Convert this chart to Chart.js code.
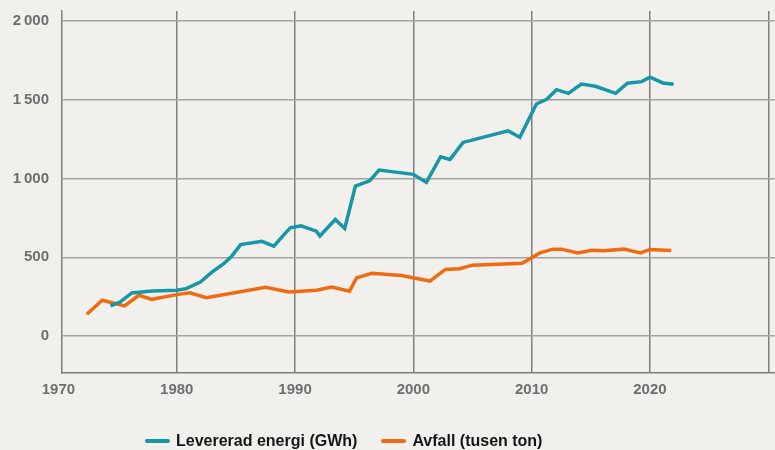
<!DOCTYPE html>
<html>
<head>
<meta charset="utf-8">
<script src="https://cdn.jsdelivr.net/npm/chart.js@4"></script>
<style>
  html, body { margin: 0; background: #f1f0ec; overflow: hidden; }
  #wrap { position: relative; width: 775px; height: 450px; overflow: hidden; }
  #legend { position: absolute; left: 145px; top: 432px; display: flex; font-family: "Liberation Sans", Arial, sans-serif; font-size: 16px; font-weight: bold; color: #151515; line-height: 18px; white-space: nowrap; }
  .item { display: flex; align-items: center; margin-right: 24px; }
  .swatch { width: 25px; height: 4px; border-radius: 2px; margin-right: 6px; }
</style>
</head>
<body>
<div id="wrap">
  <canvas id="myChart" width="775" height="450"></canvas>
  <div id="legend"></div>
</div>
<script>
// data (year, value)
const energyYears = [1974.4, 1975.2, 1976.2, 1977.9, 1980.0, 1980.8, 1982.0, 1983.0, 1984.0, 1984.6,
  1985.4, 1987.2, 1988.2, 1989.2, 1989.6, 1990.5, 1991.8, 1992.1, 1993.4, 1994.2,
  1995.1, 1996.3, 1997.1, 2000.0, 2001.1, 2002.3, 2003.1, 2004.2, 2008.0, 2009.0,
  2010.4, 2011.3, 2012.1, 2013.1, 2014.2, 2015.4, 2017.1, 2018.1, 2019.3, 2020.0,
  2021.1, 2022.0];
const energyValues = [191, 216, 274, 286, 291, 301, 343, 407, 462, 503,
  581, 602, 571, 655, 687, 700, 666, 636, 740, 683,
  952, 986, 1054, 1027, 976, 1139, 1122, 1230, 1304, 1262,
  1474, 1506, 1565, 1542, 1601, 1587, 1542, 1606, 1616, 1644,
  1608, 1599];

const wasteYears = [1972.4, 1973.7, 1975.6, 1976.8, 1977.9, 1980.0, 1981.1, 1982.5, 1987.5, 1989.5,
  1991.8, 1993.1, 1994.6, 1995.2, 1996.5, 1999.0, 2001.4, 2002.7, 2003.9, 2005.0,
  2009.2, 2010.7, 2011.8, 2012.5, 2013.9, 2015.1, 2016.1, 2017.8, 2019.2, 2020.0,
  2021.8];
const wasteValues = [138, 227, 191, 259, 233, 263, 274, 244, 310, 280,
  291, 311, 285, 369, 399, 384, 349, 423, 427, 450,
  462, 528, 552, 552, 528, 545, 541, 552, 528, 550,
  543];

const seriesNames = ["Levererad energi (GWh)", "Avfall (tusen ton)"];
const seriesColors = ["#1796a7", "#ee6b12"];

const xTicks = [1970, 1980, 1990, 2000, 2010, 2020, 2030];
const xTickLabels = ["1970", "1980", "1990", "2000", "2010", "2020", ""];
const yTicks = [0, 500, 1000, 1500, 2000];
const yTickLabels = ["0", "500", "1\u2009000", "1\u2009500", "2\u2009000"];

const FONT = "'Liberation Sans', Arial, sans-serif";

const toPoints = (xs, ys) => xs.map((x, i) => ({ x: x, y: ys[i] }));

const ctx = document.getElementById("myChart").getContext("2d");
const myChart = new Chart(ctx, {
  type: "line",
  data: {
    datasets: [
      {
        label: seriesNames[0],
        data: toPoints(energyYears, energyValues),
        borderColor: seriesColors[0],
        backgroundColor: seriesColors[0],
        borderWidth: 3.5,
        pointRadius: 0,
        tension: 0,
      },
      {
        label: seriesNames[1],
        data: toPoints(wasteYears, wasteValues),
        borderColor: seriesColors[1],
        backgroundColor: seriesColors[1],
        borderWidth: 3.5,
        pointRadius: 0,
        tension: 0,
      },
    ],
  },
  options: {
    responsive: false,
    animation: false,
    layout: { padding: { top: 11, right: 0, left: 0, bottom: 47 } },
    plugins: { legend: { display: false }, tooltip: { enabled: false } },
    scales: {
      x: {
        type: "linear",
        min: 1970.3,
        max: 2030.57,
        afterBuildTicks: (axis) => {
          axis.ticks = xTicks.map((v) => ({ value: v }));
        },
        afterFit: (axis) => {
          axis.height = 30;
          axis.paddingLeft = 0;
          axis.paddingRight = 0;
        },
        ticks: {
          autoSkip: false,
          maxRotation: 0,
          padding: 8,
          color: "#6e6e6e",
          font: { family: FONT, size: 15, weight: "bold" },
          callback: (v) => xTickLabels[xTicks.indexOf(v)],
        },
        grid: {
          drawTicks: false,
          lineWidth: 1.5,
          color: (c) => (c.tick && c.tick.value === 1970 ? "rgba(0,0,0,0)" : "#7e7e7e"),
        },
        border: { display: true, color: "#7e7e7e", width: 1.5 },
      },
      y: {
        min: -235,
        max: 2065,
        afterBuildTicks: (axis) => {
          axis.ticks = yTicks.map((v) => ({ value: v }));
        },
        afterFit: (axis) => {
          // fixed label column, no extra room above/below the plot
          axis.width = 62;
          axis.paddingTop = 0;
          axis.paddingBottom = 0;
        },
        ticks: {
          padding: 13,
          color: "#6e6e6e",
          font: { family: FONT, size: 15, weight: "bold" },
          callback: (v) => yTickLabels[yTicks.indexOf(v)],
        },
        grid: { drawTicks: false, lineWidth: 1.5, color: "#a3a3a3" },
        border: { display: true, color: "#7e7e7e", width: 1.5 },
      },
    },
  },
});

// legend in html, built from the dataset names
const legendBox = document.getElementById("legend");
seriesNames.forEach((name, i) => {
  const item = document.createElement("div");
  item.className = "item";
  item.innerHTML = '<span class="swatch" style="background:' + seriesColors[i] + '"></span>' + name;
  legendBox.appendChild(item);
});
</script>
</body>
</html>
